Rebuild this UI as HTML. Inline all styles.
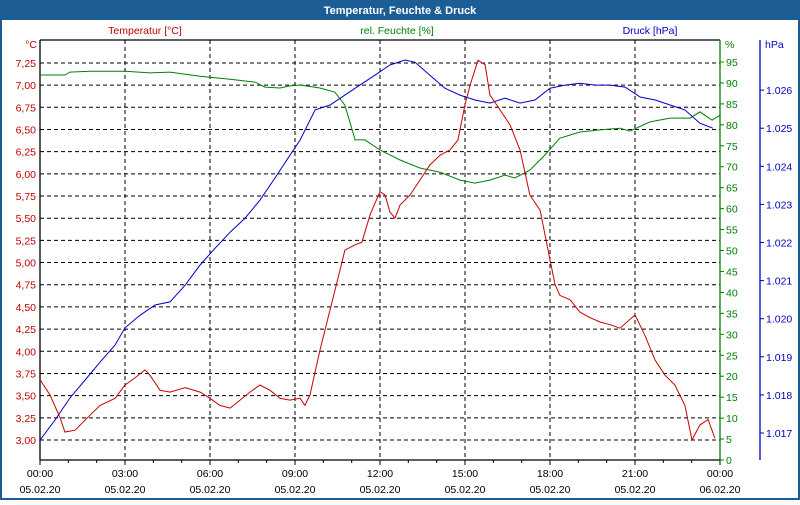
<!DOCTYPE html>
<html><head><meta charset="utf-8"><style>
body{margin:0;width:800px;height:500px;overflow:hidden;font-family:"Liberation Sans","DejaVu Sans",sans-serif;}
</style></head><body>
<svg id="chart" width="800" height="500" xmlns="http://www.w3.org/2000/svg" font-family="Liberation Sans, DejaVu Sans, sans-serif" font-size="10.5">
<rect x="0" y="0" width="800" height="500" fill="#1d5d96"/>
<rect x="2" y="20" width="796" height="478" fill="#fff"/>
<text x="400" y="14" text-anchor="middle" fill="#fff" font-weight="bold" font-size="11">Temperatur, Feuchte &amp; Druck</text>
<text x="145" y="34" text-anchor="middle" fill="#c00000">Temperatur [°C]</text>
<text x="397" y="34" text-anchor="middle" fill="#008000">rel. Feuchte [%]</text>
<text x="650" y="34" text-anchor="middle" fill="#0000c0">Druck [hPa]</text>
<text x="37" y="48" text-anchor="end" fill="#c00000">°C</text>
<text x="725" y="48" fill="#008000">%</text>
<text x="765" y="48" fill="#0000c0">hPa</text>
<g id="grid"></g><g id="axes"></g><g id="series"></g>
</svg>
<script>
const tempHours=[0,.35,.71,.88,1.24,1.76,2.12,2.65,3,3.35,3.71,3.88,4.24,4.59,5.12,5.65,6,6.35,6.71,7.06,7.41,7.76,8.12,8.47,8.82,9.18,9.35,9.53,9.88,10.24,10.59,10.76,11.12,11.36,11.65,12,12.18,12.35,12.53,12.71,13.06,13.41,13.76,14.12,14.47,14.75,15,15.18,15.46,15.71,15.88,16.24,16.59,16.94,17.29,17.65,18,18.18,18.35,18.71,19.06,19.41,19.76,20.12,20.47,21,21.35,21.71,22.06,22.41,22.76,23.01,23.29,23.58,23.82];
const tempValues=[3.68,3.51,3.25,3.09,3.11,3.28,3.39,3.47,3.62,3.70,3.79,3.73,3.56,3.54,3.59,3.54,3.47,3.39,3.36,3.45,3.54,3.62,3.56,3.47,3.45,3.47,3.39,3.51,4.01,4.47,4.92,5.14,5.20,5.23,5.54,5.80,5.76,5.57,5.50,5.65,5.76,5.93,6.10,6.21,6.27,6.38,6.78,7.00,7.28,7.23,6.89,6.72,6.55,6.27,5.76,5.59,5.03,4.75,4.63,4.58,4.44,4.38,4.33,4.30,4.26,4.41,4.18,3.90,3.73,3.62,3.39,3.00,3.17,3.23,3.02];
const humHours=[0,.88,1.06,1.76,3,3.88,4.59,5.65,6.71,7.59,7.94,8.47,8.82,9.18,9.88,10.41,10.76,11.12,11.47,12,12.71,13.41,14.12,14.82,15.35,15.88,16.41,16.76,17.29,17.82,18.35,19.06,19.76,20.47,20.82,21.53,22.24,22.94,23.29,23.72,24];
const humValues=[91.9,91.9,92.6,92.8,92.8,92.4,92.6,91.6,90.9,90.2,89.0,88.8,89.3,89.5,88.8,87.8,84.7,76.4,76.4,74.0,71.6,69.7,68.7,66.8,66.1,66.8,68.0,67.3,69.2,72.8,76.8,78.3,78.8,79.2,78.5,80.7,81.6,81.6,83.1,81.1,82.3];
const presHours=[0,.53,1.06,1.59,2.12,2.65,3,3.53,4.06,4.59,5.12,5.65,6.18,6.71,7.24,7.76,8.29,8.82,9.18,9.71,10.24,10.76,11.29,11.82,12.35,12.88,13.24,13.76,14.29,14.82,15.35,15.88,16.41,16.94,17.47,18,18.53,19.06,19.59,20.12,20.65,21.18,21.71,22.24,22.76,23.29,23.75];
const presValues=[1.01681,1.01734,1.01792,1.01839,1.01886,1.01931,1.01976,1.02009,1.02036,1.02044,1.02088,1.02141,1.02185,1.02227,1.02264,1.02311,1.02369,1.02429,1.02469,1.02548,1.02561,1.02587,1.02613,1.02639,1.02666,1.02679,1.02673,1.02639,1.02605,1.02587,1.02574,1.02566,1.02579,1.02566,1.02574,1.02605,1.02613,1.02618,1.02613,1.02613,1.02608,1.02582,1.02574,1.02561,1.02548,1.02513,1.02500];
const tempTicks=["3,00","3,25","3,50","3,75","4,00","4,25","4,50","4,75","5,00","5,25","5,50","5,75","6,00","6,25","6,50","6,75","7,00","7,25"];
const humTicks=[0,5,10,15,20,25,30,35,40,45,50,55,60,65,70,75,80,85,90,95];
const presTicks=["1.017","1.018","1.019","1.020","1.021","1.022","1.023","1.024","1.025","1.026"];
const timeTicks=["00:00","03:00","06:00","09:00","12:00","15:00","18:00","21:00","00:00"];
const dateTicks=["05.02.20","05.02.20","05.02.20","05.02.20","05.02.20","05.02.20","05.02.20","05.02.20","06.02.20"];

const L=40,R=720,T=40,B=460;
const xS=h=>L+h*(R-L)/24;
const yT=t=>440-(t-3)/0.25*22.18;
const yH=v=>460-v*(460-62)/95;
const yP=p=>433-(p-1.017)/0.001*38.1;
const NS="http://www.w3.org/2000/svg";
function mk(tag,attrs,parent,txt){const e=document.createElementNS(NS,tag);for(const k in attrs)e.setAttribute(k,attrs[k]);if(txt!==undefined)e.textContent=txt;document.getElementById(parent).appendChild(e);return e;}
tempTicks.forEach((lab,i)=>{const y=yT(3+i*0.25);
 const g=mk('line',{x1:L,x2:R,y1:y,y2:y,stroke:'#000','stroke-dasharray':'4,3','stroke-width':1},'grid');
 
 const t=mk('text',{x:36,y:y+4,'text-anchor':'end',fill:'#c00000'},'axes',lab);
 });
timeTicks.forEach((lab,i)=>{const x=xS(i*3);
 if(i>0&&i<8){const g=mk('line',{x1:x,x2:x,y1:T,y2:B,stroke:'#000','stroke-dasharray':'4,3'},'grid');
 }
 const t=mk('text',{x:x,y:477,'text-anchor':'middle',fill:'#000'},'axes',lab);
 
 const d=mk('text',{x:x,y:493,'text-anchor':'middle',fill:'#000'},'axes',dateTicks[i]);
 });
for(let h=0;h<=24;h++){const x=xS(h);const tk=mk('line',{x1:x,x2:x,y1:B,y2:B+(h%3?3:5),stroke:'#000'},'axes');
 }
humTicks.forEach(v=>{const y=yH(v);
 const tk=mk('line',{x1:R,x2:R+4,y1:y,y2:y,stroke:'#008000'},'axes');
 
 const t=mk('text',{x:R+6,y:y+4,fill:'#008000'},'axes',String(v));
 });
presTicks.forEach((lab,i)=>{const y=yP(1.017+i*0.001);
 const tk=mk('line',{x1:760,x2:764,y1:y,y2:y,stroke:'#0000c0'},'axes');
 
 const t=mk('text',{x:766,y:y+4,fill:'#0000c0'},'axes',lab);
 });
[[L,T,R,T,'#000','plot-top-border'],[L,T,L,B,'#000','temperature-axis'],[L,B,R,B,'#000','x-axis'],[R,T,R,B,'#008000','humidity-axis'],[760,T,760,B,'#0000c0','pressure-axis']].forEach(a=>{
 const l=mk('line',{x1:a[0],y1:a[1],x2:a[2],y2:a[3],stroke:a[4],'stroke-width':1.3},'axes');
 });
function series(hs,vs,yf,col,name){const pts=hs.map((h,i)=>xS(h).toFixed(1)+','+yf(vs[i]).toFixed(1)).join(' ');
 const p=mk('polyline',{points:pts,fill:'none',stroke:col,'stroke-width':1},'series');
 }
series(humHours,humValues,yH,'#008000','humidity-line');
series(presHours,presValues,yP,'#0000c8','pressure-line');
series(tempHours,tempValues,yT,'#c80000','temperature-line');
</script>
</body></html>
